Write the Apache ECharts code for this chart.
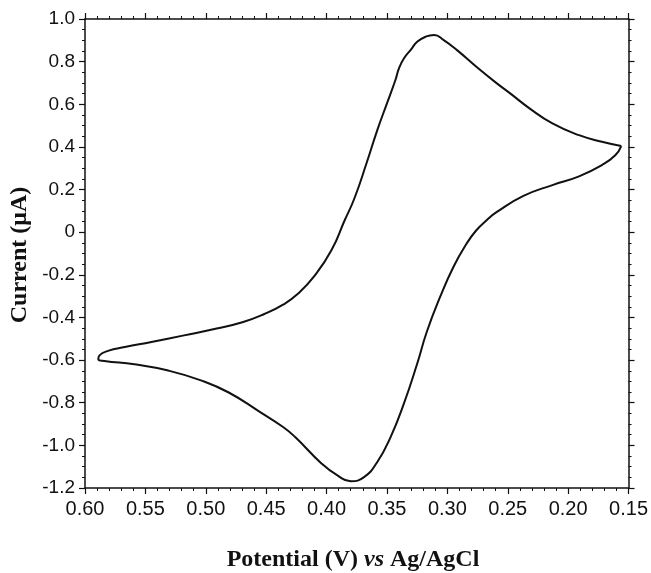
<!DOCTYPE html>
<html>
<head>
<meta charset="utf-8">
<script src="https://cdn.jsdelivr.net/npm/echarts@6/dist/echarts.min.js"></script>
<style>
html,body{margin:0;padding:0;background:#fff;}
#chart{width:651px;height:573px;}
</style>
</head>
<body>
<div id="chart"></div>
<script>
// Potential (V vs Ag/AgCl) and current (µA), traced around the loop
var potential = [
  0.156, 0.172, 0.191, 0.213, 0.232, 0.248, 0.259, 0.276, 0.292, 0.303, 0.311, 0.318, 0.325, 0.330,
  0.336, 0.340, 0.343, 0.350, 0.358, 0.367, 0.377, 0.385, 0.396, 0.410, 0.4235, 0.436, 0.452, 0.469,
  0.491, 0.518, 0.545, 0.567, 0.581, 0.588, 0.589,
  0.584, 0.559, 0.532, 0.504, 0.481, 0.455, 0.436, 0.426, 0.404, 0.391, 0.380, 0.369, 0.358, 0.347,
  0.336, 0.325, 0.317, 0.306, 0.295, 0.284, 0.276, 0.2675, 0.259, 0.237, 0.213, 0.191, 0.172, 0.161, 0.156
];
var current = [
  0.404, 0.424, 0.455, 0.510, 0.581, 0.651, 0.698, 0.776, 0.854, 0.901, 0.925, 0.917, 0.893, 0.858,
  0.815, 0.770, 0.714, 0.604, 0.479, 0.322, 0.158, 0.056, -0.085, -0.205, -0.288, -0.340, -0.385, -0.421,
  -0.452, -0.484, -0.515, -0.539, -0.557, -0.578, -0.596,
  -0.604, -0.620, -0.648, -0.695, -0.752, -0.844, -0.914, -0.961, -1.086, -1.141, -1.168, -1.149, -1.078, -0.961,
  -0.804, -0.617, -0.467, -0.304, -0.163, -0.053, 0.009, 0.056, 0.095, 0.170, 0.221, 0.262, 0.315, 0.361, 0.404
];
var xTicks = [0.60, 0.55, 0.50, 0.45, 0.40, 0.35, 0.30, 0.25, 0.20, 0.15];
var yTicks = [1.0, 0.8, 0.6, 0.4, 0.2, 0, -0.2, -0.4, -0.6, -0.8, -1.0, -1.2];
var xTitle = 'Potential (V) ';
var xTitleItalic = 'vs';
var xTitleEnd = ' Ag/AgCl';
var yTitle = 'Current (\u03bcA)';

var data = potential.map(function (p, i) { return [p, current[i]]; });

var chart = echarts.init(document.getElementById('chart'), null, {renderer: 'canvas'});
var labelFamily = 'Liberation Sans, Arial, sans-serif';
var axisLine = {show: true, onZero: false, lineStyle: {color: '#111', width: 1.5}};
var xCommon = {
  type: 'value', inverse: true,
  min: Math.min.apply(null, xTicks), max: Math.max.apply(null, xTicks), interval: 0.05,
  axisLine: axisLine,
  axisTick: {show: true, inside: false, length: 6, lineStyle: {color: '#111', width: 1.2}},
  minorTick: {show: true, splitNumber: 5, length: 3, lineStyle: {color: '#111', width: 1}},
  splitLine: {show: false}, minorSplitLine: {show: false}
};
var yCommon = {
  type: 'value',
  min: Math.min.apply(null, yTicks), max: Math.max.apply(null, yTicks), interval: 0.2,
  axisLine: axisLine,
  axisTick: {show: true, inside: false, length: 6, lineStyle: {color: '#111', width: 1.2}},
  minorTick: {show: true, splitNumber: 4, length: 3, lineStyle: {color: '#111', width: 1}},
  splitLine: {show: false}, minorSplitLine: {show: false}
};
chart.setOption({
  animation: false,
  backgroundColor: '#fff',
  grid: {left: 85, right: 18, top: 19, bottom: 85, containLabel: false},
  xAxis: [
    Object.assign({}, xCommon, {position: 'bottom',
      axisLabel: {color: '#111', fontFamily: labelFamily, fontSize: 20, margin: 11,
        formatter: function (v) { return v.toFixed(2); }}}),
    Object.assign({}, xCommon, {position: 'top', axisLabel: {show: false}})
  ],
  yAxis: [
    Object.assign({}, yCommon, {position: 'left',
      axisLabel: {color: '#111', fontFamily: labelFamily, fontSize: 19, margin: 10,
        formatter: function (v) { return Math.abs(v) < 1e-9 ? '0' : v.toFixed(1); }}}),
    Object.assign({}, yCommon, {position: 'right', axisLabel: {show: false}})
  ],
  series: [{
    type: 'line', xAxisIndex: 0, yAxisIndex: 0,
    data: data, showSymbol: false, smooth: 0.5,
    lineStyle: {color: '#111', width: 2}
  }],
  graphic: [
    {type: 'text', x: 353, y: 560,
     style: {text: '{b|' + xTitle + '}{i|' + xTitleItalic + '}{b|' + xTitleEnd + '}',
       align: 'center', verticalAlign: 'middle',
       rich: {
         b: {fontFamily: 'Liberation Serif, Times New Roman, serif', fontWeight: 'bold', fontSize: 24, fill: '#111'},
         i: {fontFamily: 'Liberation Serif, Times New Roman, serif', fontWeight: 'bold', fontStyle: 'italic', fontSize: 24, fill: '#111'}
       }}},
    {type: 'text', x: 20, y: 255, rotation: Math.PI / 2,
     style: {text: yTitle, align: 'center', verticalAlign: 'middle',
       fontFamily: 'Liberation Serif, Times New Roman, serif', fontWeight: 'bold', fontSize: 24, fill: '#111'}}
  ]
});
</script>
</body>
</html>
